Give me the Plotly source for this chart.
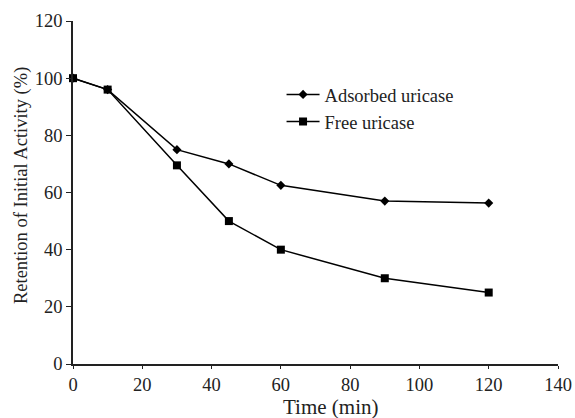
import plotly.graph_objects as go

time_min = [0, 10, 30, 45, 60, 90, 120]
adsorbed = [100, 96, 75, 70, 62.5, 57, 56.3]
free = [100, 96, 69.5, 50, 40, 30, 25]
x_ticks = [0, 20, 40, 60, 80, 100, 120, 140]
y_ticks = [0, 20, 40, 60, 80, 100, 120]

FONT = "Liberation Serif, Times New Roman, serif"

fig = go.Figure()
fig.add_trace(go.Scatter(
    x=time_min, y=adsorbed, name="Adsorbed uricase", mode="lines+markers",
    line=dict(color="black", width=1.5),
    marker=dict(symbol="diamond", size=7, color="black"),
    cliponaxis=False,
))
fig.add_trace(go.Scatter(
    x=time_min, y=free, name="Free uricase", mode="lines+markers",
    line=dict(color="black", width=1.5),
    marker=dict(symbol="square", size=8, color="black"),
    cliponaxis=False,
))

fig.update_layout(
    width=575, height=418,
    margin=dict(l=73, r=17, t=21, b=54, autoexpand=False),
    paper_bgcolor="white", plot_bgcolor="white",
    font=dict(family=FONT, size=18.5, color="#222"),
    showlegend=True,
    legend=dict(x=0.43, y=0.84, xanchor="left", yanchor="top",
                bgcolor="rgba(0,0,0,0)", font=dict(family=FONT, size=18.5, color="#222"),
                itemwidth=33, tracegroupgap=0),
    xaxis=dict(range=[0, 140], tickvals=x_ticks, showgrid=False, zeroline=False,
               showline=True, linecolor="#222", linewidth=1.5, automargin=False,
               ticks="outside", ticklen=3, tickcolor="#222", tickwidth=1),
    yaxis=dict(range=[0, 120], tickvals=y_ticks, showgrid=False, zeroline=False,
               showline=True, linecolor="#222", linewidth=1.5, automargin=False,
               ticks="outside", ticklen=5, tickcolor="#222", tickwidth=1),
    annotations=[
        dict(text="Time (min)", xref="paper", yref="paper", x=0.531, y=-0.125,
             showarrow=False, xanchor="center", yanchor="middle",
             font=dict(family=FONT, size=21, color="#222")),
        dict(text="Retention of Initial Activity (%)", xref="paper", yref="paper",
             x=-0.105, y=0.519, textangle=-90, showarrow=False,
             xanchor="center", yanchor="middle",
             font=dict(family=FONT, size=18.5, color="#222")),
    ],
)

fig.write_html("out.html", config={"displayModeBar": False},
               post_script="document.body.style.margin='0';")
